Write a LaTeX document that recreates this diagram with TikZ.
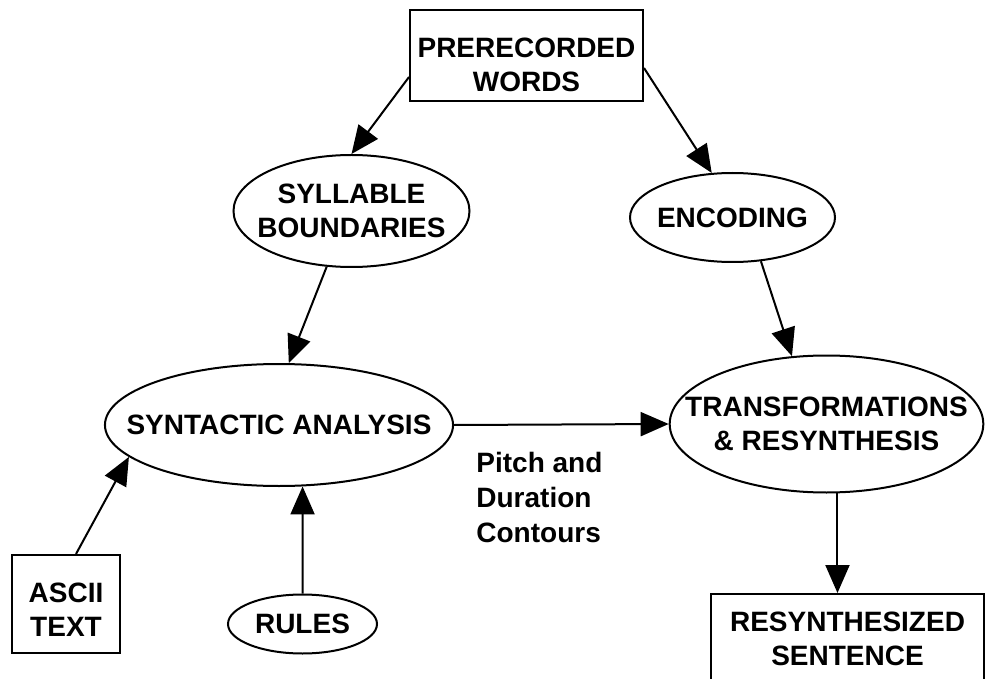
\documentclass[tikz,border=0pt]{standalone}
\usepackage{fontspec}
\setmainfont{Liberation Sans}
\usetikzlibrary{shapes.geometric,arrows.meta}

\begin{document}
\begin{tikzpicture}[x={(0.5pt,0)},y={(0,-0.5pt)},
  font=\fontsize{14}{17}\selectfont\bfseries,
  box/.style={draw,line width=1pt,inner sep=0pt,align=center},
  oval/.style={draw,ellipse,line width=1pt,inner ysep=0pt,align=center},
  flow/.style={line width=1pt,-{Triangle[length=14pt,width=12pt]}}]
  \useasboundingbox (0,0) rectangle (985,679);
  \clip (0,0) rectangle (985,679);
  % inputs
  \node[box,minimum width=116.5pt,minimum height=45.5pt] (pre) at (526.5,55.5) {\rule{0pt}{19pt}PRERECORDED\\WORDS};
  \node[box,minimum width=54pt,minimum height=49pt] (ascii) at (66,604) {\rule{0pt}{15pt}ASCII\\TEXT};
  \node[oval,inner xsep=0pt,minimum width=74.5pt,minimum height=29.5pt] (rules) at (302.5,624) {RULES};
  % processing
  \node[oval,inner xsep=-5.5pt,minimum width=118pt,minimum height=56pt] (syl) at (351.5,211) {SYLLABLE\\BOUNDARIES};
  \node[oval,inner xsep=-1.6pt,minimum width=102.5pt,minimum height=44.5pt] (enc) at (732.5,217.5) {ENCODING};
  \node[oval,inner xsep=-14.7pt,minimum width=174pt,minimum height=61pt] (syn) at (279,425) {SYNTACTIC ANALYSIS};
  \node[oval,inner xsep=-15.2pt,minimum width=156.5pt,minimum height=68.5pt] (tr) at (826.5,424) {TRANSFORMATIONS\\\& RESYNTHESIS};
  % output, cut by the lower edge
  \node[box,minimum width=136.5pt,minimum height=44.5pt] (res) at (847.5,638.5) {RESYNTHESIZED\\SENTENCE};
  \node[anchor=north west,inner sep=0pt,align=left,font=\fontsize{14}{17.5}\selectfont\bfseries] (pitch) at (476,452) {Pitch and\\Duration\\Contours};
  % arrows
  \draw[flow] ([yshift=-10.75pt]pre.west) -- (syl.north);
  \draw[flow] ([yshift=-6.25pt]pre.east) -- (enc.115);
  \draw[flow] (syl.246) -- (syn.81);
  \draw[flow] (enc.-57) -- (tr.117);
  \draw[flow] (syn.east) -- (tr.west);
  \draw[flow] ([xshift=5pt]ascii.north) -- (syn.192);
  \draw[flow] (rules.north) -- (syn.-69);
  \draw[flow] (tr.-81) -- (tr.-81 |- res.north);
\end{tikzpicture}
\end{document}
